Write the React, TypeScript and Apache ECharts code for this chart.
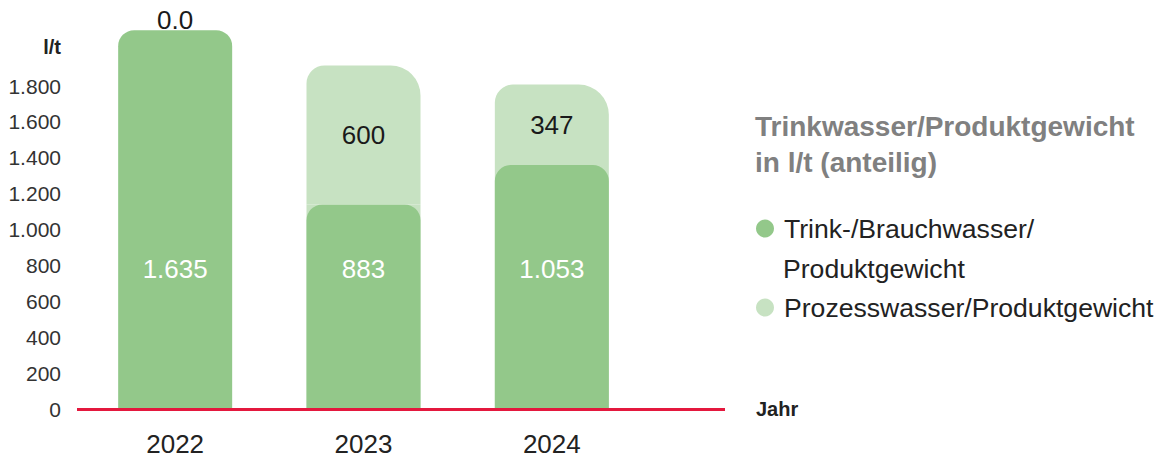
import React, { useEffect, useRef } from 'react';
import * as echarts from 'echarts';

// ---- data ----
const years = ['2022', '2023', '2024'];
const trinkValues = [1635, 883, 1053];
const prozessValues = [0, 600, 347];
const seriesNames = ['Trink-/Brauchwasser/Produktgewicht', 'Prozesswasser/Produktgewicht'];
const legendLine1 = 'Trink-/Brauchwasser/';
const legendLine2 = 'Produktgewicht';
const chartTitle = 'Trinkwasser/Produktgewicht\nin l/t (anteilig)';
const yAxisName = 'l/t';
const xAxisName = 'Jahr';
// visible axis ticks
const axisMin = 0;
const axisMax = 1800;
const axisStep = 200;
// the bars in the original are drawn on their own (unlabelled) scale
const barAxisMax = 1394;

const DARK = '#93C88A';
const LIGHT = '#C7E2C2';
const RED = '#E4183E';
const FONT = '"Liberation Sans", Arial, Helvetica, sans-serif';

function thousands(v: number): string {
  return String(v).replace(/\B(?=(\d{3})+(?!\d))/g, '.');
}
function dataLabel(v: number): string {
  return v === 0 ? '0.0' : thousands(v);
}

export default function App() {
  const ref = useRef<HTMLDivElement>(null);
  useEffect(() => {
    if (!ref.current) return;
    const chart = echarts.init(ref.current, undefined, { renderer: 'svg' });
    const fillerValues = trinkValues.map((v, i) => (prozessValues[i] > 0 ? v : 0));
    const option: any = {
      animation: false,
      textStyle: { fontFamily: FONT },
      title: {
        text: chartTitle,
        left: 755,
        top: 108,
        padding: 0,
        textStyle: { fontSize: 28, fontWeight: 'bold', color: '#808080', lineHeight: 36, fontFamily: FONT },
      },
      legend: {
        orient: 'vertical',
        left: 756,
        top: 215,
        padding: 0,
        itemWidth: 28,
        itemHeight: 18,
        itemGap: 52,
        icon: 'circle',
        selectedMode: false,
        data: seriesNames,
        formatter: (name: string) => (name === seriesNames[0] ? legendLine1 : name),
        textStyle: { fontSize: 26.6, color: '#222', lineHeight: 26, fontFamily: FONT },
      },
      grid: { left: 81, right: 512, top: 86, bottom: 50 },
      xAxis: {
        type: 'category',
        data: years,
        axisLine: { show: false },
        axisTick: { show: false },
        axisLabel: { fontSize: 26, color: '#222', margin: 22, fontFamily: FONT },
        name: xAxisName,
        nameLocation: 'end',
        nameGap: 110,
        nameTextStyle: { fontSize: 20, fontWeight: 'bold', color: '#222', verticalAlign: 'middle', fontFamily: FONT },
      },
      yAxis: [
        {
          type: 'value',
          min: axisMin,
          max: axisMax,
          interval: axisStep,
          name: yAxisName,
          nameLocation: 'end',
          nameGap: 39,
          nameTextStyle: {
            fontSize: 20,
            fontWeight: 'bold',
            color: '#222',
            align: 'right',
            verticalAlign: 'middle',
            padding: [0, 20, 0, 0],
            fontFamily: FONT,
          },
          axisLine: { show: false },
          axisTick: { show: false },
          splitLine: { show: false },
          axisLabel: { fontSize: 21, color: '#333', margin: 20, formatter: (v: number) => thousands(v), fontFamily: FONT },
        },
        { type: 'value', show: false, min: 0, max: barAxisMax, splitLine: { show: false } },
      ],
      series: [
        {
          name: 'filler',
          type: 'bar',
          yAxisIndex: 1,
          barWidth: 114,
          barGap: '-100%',
          silent: true,
          clip: false,
          itemStyle: { color: LIGHT },
          data: fillerValues,
        },
        {
          name: seriesNames[0],
          type: 'bar',
          stack: 'total',
          yAxisIndex: 1,
          barWidth: 114,
          barGap: '-100%',
          clip: false,
          itemStyle: { color: DARK, borderRadius: [16, 16, 0, 0] },
          label: {
            show: true,
            position: 'insideBottom',
            distance: 127,
            fontSize: 26,
            color: '#fff',
            fontFamily: FONT,
            formatter: (p: any) => dataLabel(p.value),
          },
          data: trinkValues,
        },
        {
          name: seriesNames[1],
          type: 'bar',
          stack: 'total',
          yAxisIndex: 1,
          barWidth: 114,
          barGap: '-100%',
          clip: false,
          itemStyle: { color: LIGHT, borderRadius: [18, 30, 0, 0] },
          label: {
            show: true,
            position: 'inside',
            fontSize: 26,
            color: '#1a1a1a',
            fontFamily: FONT,
            formatter: (p: any) => dataLabel(p.value),
          },
          data: prozessValues.map((v) =>
            v === 0 ? { value: v, label: { position: 'top', distance: -3 } } : v
          ),
        },
      ],
      graphic: [
        { type: 'line', z: 10, shape: { x1: 77, y1: 409.5, x2: 725, y2: 409.5 }, style: { stroke: RED, lineWidth: 3 } },
        { type: 'text', left: 783, top: 255, style: { text: legendLine2, fontSize: 26.6, fill: '#222', fontFamily: FONT } },
      ],
    };
    chart.setOption(option);
    return () => chart.dispose();
  }, []);
  return <div ref={ref} style={{ position: 'absolute', left: 0, top: 0, width: 1158, height: 459 }} />;
}
